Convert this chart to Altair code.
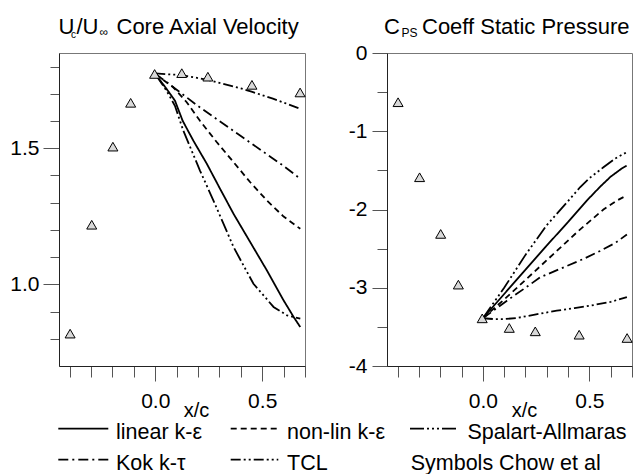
import altair as alt
import pandas as pd

FONT = "Liberation Sans"

# ---- Chow et al. measurements (x/c) ----
exp_x = [-0.398, -0.297, -0.198, -0.115, -0.003, 0.124, 0.246, 0.452, 0.677]
exp_vel = [0.819, 1.219, 1.506, 1.667, 1.773, 1.776, 1.763, 1.733, 1.705]
exp_cps = [-0.629, -1.588, -2.312, -2.960, -3.391, -3.514, -3.557, -3.600, -3.642]

# ---- turbulence models and their line styles ----
models = ["linear k-ε", "non-lin k-ε", "Spalart-Allmaras", "Kok k-τ", "TCL"]
dashes = [[1, 0], [6, 4], [14, 3, 2, 3, 2, 3, 2, 3], [10, 4, 2, 4], [10, 3, 2, 3, 2, 3]]

# ---- core axial velocity U_c/U_inf ----
vel_lin_x = [0, 0.053, 0.092, 0.128, 0.178, 0.241, 0.303, 0.366, 0.444, 0.522, 0.6, 0.647, 0.678]
vel_lin_y = [1.773, 1.718, 1.675, 1.601, 1.528, 1.443, 1.351, 1.259, 1.155, 1.051, 0.941, 0.880, 0.843]
vel_nl_x = [0, 0.084, 0.147, 0.209, 0.288, 0.366, 0.444, 0.522, 0.6, 0.678]
vel_nl_y = [1.773, 1.724, 1.669, 1.601, 1.522, 1.449, 1.375, 1.308, 1.249, 1.204]
vel_sa_x = [0, 0.053, 0.092, 0.131, 0.209, 0.272, 0.366, 0.459, 0.553, 0.616, 0.678]
vel_sa_y = [1.773, 1.711, 1.656, 1.565, 1.418, 1.308, 1.137, 1.002, 0.917, 0.886, 0.874]
vel_kok_x = [0, 0.05, 0.1, 0.15, 0.2, 0.3, 0.4, 0.5, 0.6, 0.678]
vel_kok_y = [1.773, 1.745, 1.715, 1.685, 1.655, 1.6, 1.545, 1.49, 1.435, 1.388]
vel_tcl_x = [0, 0.05, 0.1, 0.15, 0.2, 0.25, 0.3, 0.35, 0.4, 0.45, 0.5, 0.55, 0.6, 0.678]
vel_tcl_y = [1.775, 1.772, 1.77, 1.765, 1.758, 1.75, 1.74, 1.73, 1.72, 1.708, 1.695, 1.682, 1.668, 1.645]

# ---- static pressure coefficient C_PS ----
cps_lin_x = [0, 0.1, 0.2, 0.3, 0.4, 0.488, 0.55, 0.6, 0.65, 0.675]
cps_lin_y = [-3.39, -3.08, -2.77, -2.46, -2.16, -1.886, -1.71, -1.58, -1.48, -1.44]
cps_nl_x = [0, 0.1, 0.2, 0.331, 0.45, 0.566, 0.629, 0.675]
cps_nl_y = [-3.39, -3.15, -2.9, -2.57, -2.27, -2.0, -1.886, -1.82]
cps_sa_x = [0, 0.1, 0.2, 0.3, 0.402, 0.456, 0.5, 0.566, 0.62, 0.675]
cps_sa_y = [-3.39, -3.0, -2.58, -2.2, -1.886, -1.716, -1.6, -1.46, -1.35, -1.268]
cps_kok_x = [0, 0.113, 0.2, 0.269, 0.37, 0.472, 0.55, 0.62, 0.676]
cps_kok_y = [-3.39, -3.165, -3.0, -2.867, -2.75, -2.632, -2.53, -2.43, -2.32]
cps_tcl_x = [0, 0.05, 0.1, 0.16, 0.25, 0.347, 0.43, 0.504, 0.6, 0.676]
cps_tcl_y = [-3.39, -3.40, -3.40, -3.386, -3.34, -3.293, -3.26, -3.229, -3.18, -3.12]

# ---- axis ticks ----
x_ticks = [-0.4, -0.3, -0.2, -0.1, 0.0, 0.1, 0.2, 0.3, 0.4, 0.5, 0.6, 0.7]
vel_ticks = [0.8, 0.9, 1.0, 1.1, 1.2, 1.3, 1.4, 1.5, 1.6, 1.7, 1.8]
cps_ticks = [-4, -3.5, -3, -2.5, -2, -1.5, -1, -0.5, 0]


def curve_frame(series):
    rows = []
    for name, xs, ys in series:
        for i, (x, y) in enumerate(zip(xs, ys)):
            rows.append({"model": name, "x": x, "y": y, "i": i})
    return pd.DataFrame(rows)


vel_df = curve_frame([
    (models[0], vel_lin_x, vel_lin_y),
    (models[1], vel_nl_x, vel_nl_y),
    (models[2], vel_sa_x, vel_sa_y),
    (models[3], vel_kok_x, vel_kok_y),
    (models[4], vel_tcl_x, vel_tcl_y),
])
cps_df = curve_frame([
    (models[0], cps_lin_x, cps_lin_y),
    (models[1], cps_nl_x, cps_nl_y),
    (models[2], cps_sa_x, cps_sa_y),
    (models[3], cps_kok_x, cps_kok_y),
    (models[4], cps_tcl_x, cps_tcl_y),
])
exp_vel_df = pd.DataFrame({"x": exp_x, "y": exp_vel})
exp_cps_df = pd.DataFrame({"x": exp_x, "y": exp_cps})

AXIS_COLOR = "#222222"
TICK_COLOR = "#555555"

X_MAJOR = "(abs(datum.value) < 1e-6 || abs(datum.value - 0.5) < 1e-6)"
VEL_MAJOR = "(abs(datum.value - 1) < 1e-6 || abs(datum.value - 1.5) < 1e-6)"
CPS_MAJOR = "(abs(datum.value - round(datum.value)) < 1e-6)"


def x_axis():
    return alt.Axis(
        values=x_ticks,
        labelExpr=f"{X_MAJOR} ? format(datum.value, '.1f') : ''",
        tickSize={"condition": {"test": X_MAJOR, "value": 15}, "value": 11},
        labelPadding=9, labelFontSize=21, labelFlush=False, labelOverlap=False,
        labelColor="black", labelFont=FONT,
        title="x/c", titleX=137, titleY=50, titleAlign="center",
        titleBaseline="alphabetic", titleFontSize=20, titleFontWeight="normal",
        titleFont=FONT, titleColor="black",
        grid=False, domainColor=AXIS_COLOR, tickColor=TICK_COLOR,
    )


def vel_axis():
    return alt.Axis(
        values=vel_ticks,
        labelExpr=f"{VEL_MAJOR} ? format(datum.value, '.1f') : ''",
        tickSize={"condition": {"test": VEL_MAJOR, "value": 16}, "value": 9},
        labelPadding=4, labelFontSize=21, labelFlush=False, labelOverlap=False,
        labelColor="black", labelFont=FONT, title=None,
        grid=False, domainColor=AXIS_COLOR, tickColor=TICK_COLOR,
    )


def cps_axis():
    return alt.Axis(
        values=cps_ticks,
        labelExpr=f"{CPS_MAJOR} ? '' + round(datum.value) : ''",
        tickSize={"condition": {"test": CPS_MAJOR, "value": 15}, "value": 10},
        labelPadding=5, labelFontSize=21, labelFlush=False, labelOverlap=False,
        labelColor="black", labelFont=FONT, title=None,
        grid=False, domainColor=AXIS_COLOR, tickColor=TICK_COLOR,
    )


x_scale = alt.Scale(domain=[-0.45, 0.70], nice=False, zero=False)
dash_scale = alt.Scale(domain=models, range=dashes)


def label(text, x, y, size, align="left"):
    return alt.Chart(pd.DataFrame({"t": [text]})).mark_text(
        align=align, baseline="alphabetic", fontSize=size, font=FONT, color="black"
    ).encode(x=alt.value(x), y=alt.value(y), text="t:N")


def sample(x0, x1, y, dash):
    return alt.Chart(pd.DataFrame({"t": [0]})).mark_rule(
        color="black", strokeWidth=1.8, strokeDash=dash
    ).encode(x=alt.value(x0), x2=alt.value(x1), y=alt.value(y))


def panel(curves, exp, y_scale, y_axis, width, extras):
    lines = alt.Chart(curves).mark_line(color="black", strokeWidth=1.8).encode(
        x=alt.X("x:Q", scale=x_scale, axis=x_axis()),
        y=alt.Y("y:Q", scale=y_scale, axis=y_axis),
        strokeDash=alt.StrokeDash("model:N", scale=dash_scale, legend=None),
        order="i:Q",
    )
    points = alt.Chart(exp).mark_point(
        shape="triangle-up", size=100, filled=True, fill="#d9d9d9",
        stroke="black", strokeWidth=1, opacity=1,
    ).encode(
        x=alt.X("x:Q", scale=x_scale, axis=x_axis()),
        y=alt.Y("y:Q", scale=y_scale, axis=y_axis),
    )
    return alt.layer(lines, points, *extras).properties(width=width, height=313)


# panel titles with subscripts
TITLE = 22
vel_title = [
    label("U", -0.5, -19.4, TITLE),
    label("c", 12, -15.5, 10),
    label("/U", 17.5, -19.4, TITLE),
    label("∞", 40.5, -17, 12),
    label("Core Axial Velocity", 57.5, -19.4, TITLE),
]
cps_title = [
    label("C", -3, -19.4, TITLE),
    label("PS", 14.5, -16, 12),
    label("Coeff Static Pressure", 35, -19.4, TITLE),
]

# legend below both panels
LEG = 21.5
legend = [
    sample(-0.7, 49.3, 375.6, dashes[0]), label(models[0], 57, 386.3, LEG),
    sample(171.7, 219.3, 375.6, dashes[1]), label(models[1], 228, 386.3, LEG),
    sample(351, 399, 375.6, dashes[2]), label(models[2], 408.5, 386.3, LEG),
    sample(-0.7, 49.3, 406.6, dashes[3]), label(models[3], 57, 417, LEG),
    sample(171.7, 219.3, 406.6, dashes[4]), label(models[4], 228, 417, LEG),
    label("Symbols Chow et al", 351.7, 417, LEG),
]

left = panel(
    vel_df, exp_vel_df,
    alt.Scale(domain=[0.7, 1.85], nice=False, zero=False),
    vel_axis(), 246, vel_title + legend,
)
right = panel(
    cps_df, exp_cps_df,
    alt.Scale(domain=[-4, 0], nice=False, zero=False),
    cps_axis(), 245, cps_title,
)

chart = alt.hconcat(left, right, spacing=82, bounds="flush").properties(
    padding={"left": 9, "top": 15, "right": 0, "bottom": 0},
    background="white",
).configure_view(stroke="#777777", strokeWidth=1)

chart.save("out.html", embed_options={"renderer": "svg", "actions": False})
